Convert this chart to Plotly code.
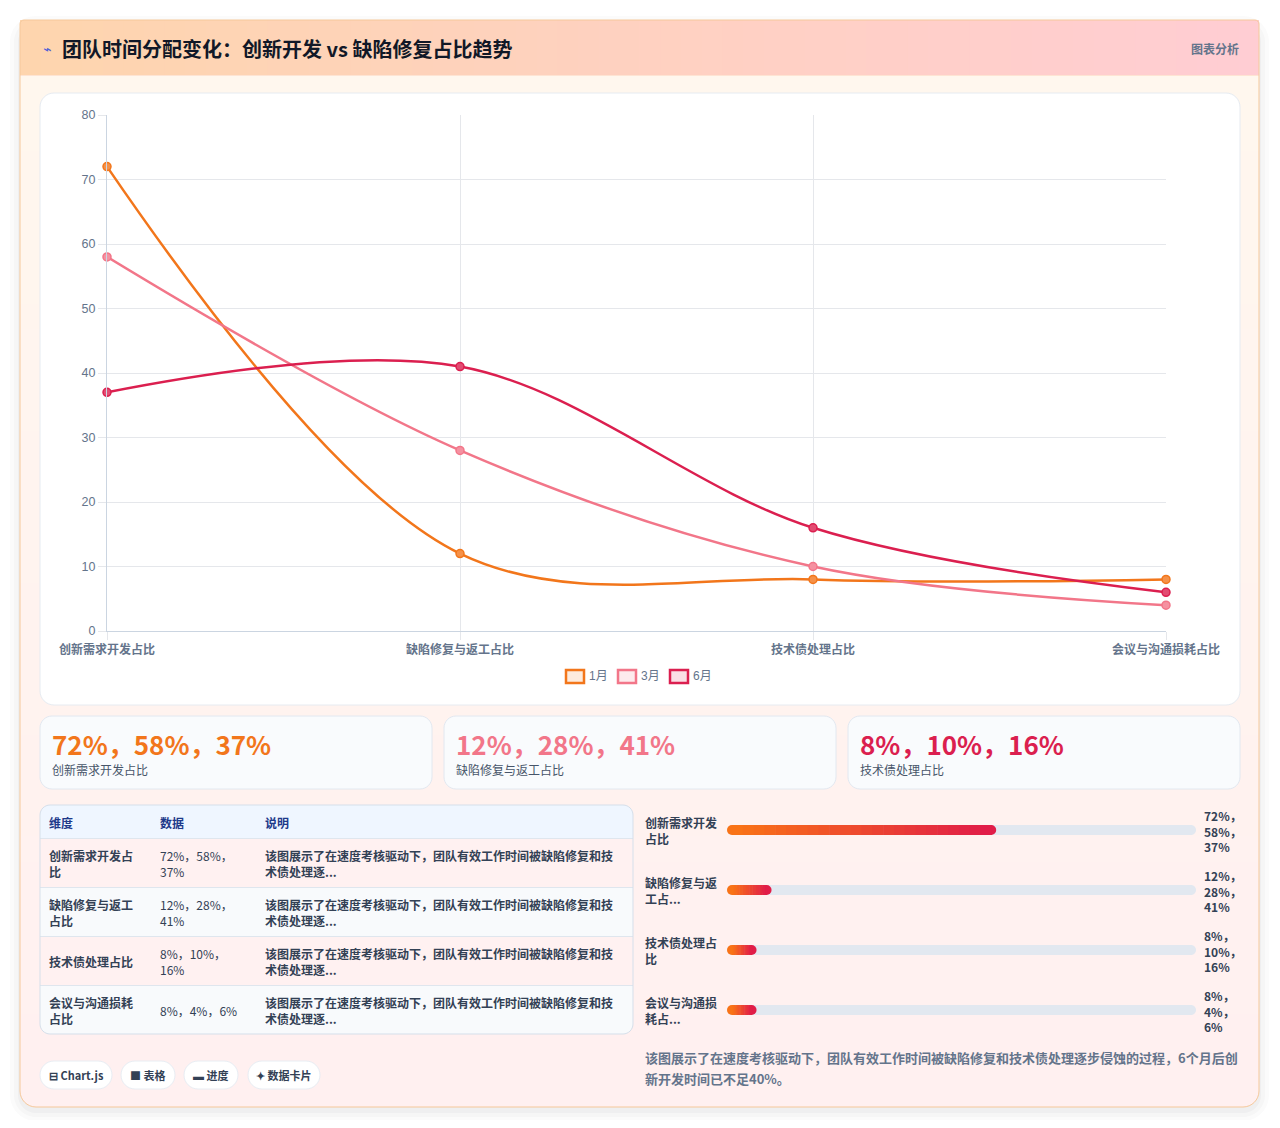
import plotly.graph_objects as go

# page body keeps an 8px margin, so the figure covers the page from (8, 8)
OFF = 8
W, H = 1280 - OFF, 1128 - 2 * OFF

# ---- data ----
title = '团队时间分配变化：创新开发 vs 缺陷修复占比趋势'
months = ['1月', '3月', '6月']
dims = ['创新需求开发占比', '缺陷修复与返工占比', '技术债处理占比', '会议与沟通损耗占比']
jan = [72, 12, 8, 8]
mar = [58, 28, 10, 4]
jun = [37, 41, 16, 6]
progress_pct = [57.4, 9.5, 6.3, 6.3]   # fill length of the progress bars
summary = '该图展示了在速度考核驱动下，团队有效工作时间被缺陷修复和技术债处理逐步侵蚀的过程，6个月后创新开发时间已不足40%。'
chips = ['⊟ Chart.js', '■ 表格', '▬ 进度', '✦ 数据卡片']

series = [jan, mar, jun]
colors = ['#f2761b', '#f27689', '#db1f4f']

FONT = 'Noto Sans CJK SC, Noto Sans, sans-serif'
TICKFONT = 'Liberation Sans, Noto Sans CJK SC, sans-serif'
PAD = 3  # inner padding plotly puts around annotation text


def X(x):
    return (x - OFF) / W


def Y(y):
    return 1 - (y - OFF) / H


def rr(x0, y0, x1, y1, tl, tr=None, br=None, bl=None):
    """rounded rect path in paper coords (input in page pixels)"""
    if tr is None:
        tr = br = bl = tl
    k = 0.4477
    p = [f"M{X(x0 + tl)},{Y(y0)}", f"L{X(x1 - tr)},{Y(y0)}"]
    if tr:
        p.append(f"C{X(x1 - tr * k)},{Y(y0)} {X(x1)},{Y(y0 + tr * k)} {X(x1)},{Y(y0 + tr)}")
    p.append(f"L{X(x1)},{Y(y1 - br)}")
    if br:
        p.append(f"C{X(x1)},{Y(y1 - br * k)} {X(x1 - br * k)},{Y(y1)} {X(x1 - br)},{Y(y1)}")
    p.append(f"L{X(x0 + bl)},{Y(y1)}")
    if bl:
        p.append(f"C{X(x0 + bl * k)},{Y(y1)} {X(x0)},{Y(y1 - bl * k)} {X(x0)},{Y(y1 - bl)}")
    p.append(f"L{X(x0)},{Y(y0 + tl)}")
    if tl:
        p.append(f"C{X(x0)},{Y(y0 + tl * k)} {X(x0 + tl * k)},{Y(y0)} {X(x0 + tl)},{Y(y0)}")
    p.append("Z")
    return " ".join(p)


def mix(c1, c2, t):
    a = [int(c1[i:i + 2], 16) for i in (1, 3, 5)]
    b = [int(c2[i:i + 2], 16) for i in (1, 3, 5)]
    return '#' + ''.join(f"{round(a[j] + (b[j] - a[j]) * t):02x}" for j in range(3))


def rgba(c, a):
    return f"rgba({int(c[1:3], 16)},{int(c[3:5], 16)},{int(c[5:7], 16)},{a})"


shapes = []
annotations = []


def path(p, fill, line=None, lw=1):
    shapes.append(dict(type='path', path=p, xref='paper', yref='paper', layer='below',
                       fillcolor=fill, line=dict(color=line or 'rgba(0,0,0,0)', width=lw if line else 0)))


def rect(x0, y0, x1, y1, fill):
    shapes.append(dict(type='rect', xref='paper', yref='paper', layer='below',
                       x0=X(x0), x1=X(x1), y0=Y(y1), y1=Y(y0),
                       fillcolor=fill, line=dict(width=0)))


def text(x, y, s, size=12, color='#334155', anchor='left', bold=False, family=FONT):
    if anchor == 'left':
        x -= PAD
    elif anchor == 'right':
        x += PAD
    annotations.append(dict(x=X(x), y=Y(y), xref='paper', yref='paper', showarrow=False,
                            text=f"<b>{s}</b>" if bold else s, xanchor=anchor, yanchor='middle',
                            align=anchor, font=dict(family=family, size=size, color=color)))


# ---- outer card: shadow, header gradient, body gradient ----
for i, a in enumerate([0.018, 0.022, 0.03]):
    d = 10 - i * 4
    path(rr(20 - d, 20 - d + 6, 1259 + d, 1107 + d + 4, 16 + d), rgba('#1e293b', a))

path(rr(20, 20, 1259, 1107, 4, 4, 16, 16), '#fff0f0')
n = 40
for i in range(n):
    y0 = 75 + (1090 - 75) * i / n
    y1 = 75 + (1090 - 75) * (i + 1) / n + 1
    rect(20, y0, 1259, y1, mix('#fff7ee', '#fff0f0', i / (n - 1)))
path(rr(20, 1085, 1259, 1107, 0, 0, 16, 16), '#fff0f0')
n = 60
for i in range(n):
    x0 = 20 + (1259 - 20) * i / n
    x1 = 20 + (1259 - 20) * (i + 1) / n + 1
    rect(x0, 20, min(x1, 1259), 75, mix('#fed5ae', '#ffcdd3', i / (n - 1)))
rect(20, 75, 1259, 76, 'rgba(251,191,160,0.35)')
path(rr(20, 20, 1259, 1107, 4, 4, 16, 16), 'rgba(0,0,0,0)', '#f5c89a', 1)

text(44, 49, '⌁', size=14, color='#4f5fd6', family='DejaVu Sans', bold=True)
text(63, 48, title, size=20, color='#111827', bold=True)
text(1238, 48, '图表分析', size=12, color='#64748b', anchor='right', bold=True)

# ---- chart card ----
path(rr(40, 93, 1240, 705, 14), '#ffffff', '#e6ebf1', 1)

fig = go.Figure()
for m, vals, c in zip(months, series, colors):
    fig.add_trace(go.Scatter(
        x=dims, y=vals, name=m, mode='lines+markers', cliponaxis=False, showlegend=False,
        line=dict(color=c, width=2.5, shape='spline', smoothing=1),
        marker=dict(size=8, color=mix(c, '#ffffff', 0.2), line=dict(color=c, width=1.5)),
        hoverinfo='x+y+name'))

# legend drawn by hand (Chart.js style boxes)
lx = 566
for m, c in zip(months, colors):
    shapes.append(dict(type='rect', xref='paper', yref='paper', layer='above',
                       x0=X(lx), x1=X(lx + 18), y0=Y(683), y1=Y(670),
                       fillcolor=rgba(c, 0.15), line=dict(color=c, width=2.5)))
    text(lx + 24, 676, m, size=12, color='#64748b', family=TICKFONT)
    lx += 52

# ---- stat cards ----
for i in range(3):
    x0 = 40 + i * 404
    path(rr(x0, 716, x0 + 392, 789, 12), '#f9fbfd', '#e2e8f0', 1)
    vals = '，'.join(f"{s[i]}%" for s in series)
    text(x0 + 13, 743, vals, size=26, color=colors[i], bold=True)
    text(x0 + 13, 769, dims[i], size=12, color='#475569')

# ---- table ----
tx0, tx1 = 40, 633
path(rr(tx0, 805, tx1, 838, 10, 10, 0, 0), '#eff6ff')
row_fill = ['#fff1f1', '#f8fafc']
for r in range(4):
    y0 = 838 + r * 49
    if r == 3:
        path(rr(tx0, y0, tx1, y0 + 49, 0, 0, 10, 10), row_fill[r % 2])
    else:
        rect(tx0, y0, tx1, y0 + 49, row_fill[r % 2])
    rect(tx0, y0, tx1, y0 + 1, '#dfe6ee')
path(rr(tx0, 805, tx1, 1034, 10), 'rgba(0,0,0,0)', '#d5dfea', 1)

for label, xx in zip(['维度', '数据', '说明'], [50, 161, 266]):
    text(xx, 822, label, size=12, color='#1e3a8a', bold=True)


def wrap(s, n):
    return '<br>'.join(s[i:i + n] for i in range(0, len(s), n))


short_desc = summary[:34] + '...'
for r, d in enumerate(dims):
    cy = 838 + r * 49 + 25
    text(50, cy, wrap(d, 7), size=12, color='#334155', bold=True)
    parts = [f"{s[r]}%" for s in series]
    v = '，'.join(parts)
    if len(v) > 9:
        v = '，'.join(parts[:2]) + '，<br>' + parts[2]
    text(161, cy, v, size=12, color='#334155')
    text(266, cy, wrap(short_desc, 29), size=12, color='#334155', bold=True)

# ---- progress bars ----
for r, d in enumerate(dims):
    cy = 830 + r * 60
    lab = d if len(d) <= 8 else d[:8] + '...'
    text(646, cy, wrap(lab, 6), size=12, color='#334155', bold=True)
    bx0, bx1 = 727, 1196
    path(rr(bx0, cy - 5, bx1, cy + 5, 5), '#e2e8f0')
    fx1 = bx0 + (bx1 - bx0) * progress_pct[r] / 100
    nseg = 24
    shapes.append(dict(type='circle', xref='paper', yref='paper', layer='below',
                       x0=X(bx0), x1=X(bx0 + 10), y0=Y(cy + 5), y1=Y(cy - 5),
                       fillcolor='#f97316', line=dict(width=0)))
    shapes.append(dict(type='circle', xref='paper', yref='paper', layer='below',
                       x0=X(fx1 - 10), x1=X(fx1), y0=Y(cy + 5), y1=Y(cy - 5),
                       fillcolor='#e11d48', line=dict(width=0)))
    sx0, sx1 = bx0 + 5, fx1 - 5
    for k in range(nseg):
        a = sx0 + (sx1 - sx0) * k / nseg
        b = sx0 + (sx1 - sx0) * (k + 1) / nseg + 0.6
        rect(a, cy - 5, min(b, sx1 + 0.5), cy + 5, mix('#f97316', '#e11d48', k / (nseg - 1)))
    text(1205, cy + 1, '，<br>'.join(f"{s[r]}%" for s in series), size=12, color='#334155', bold=True)

# ---- summary + chips ----
text(646, 1057, summary[:46], size=13, color='#64748b', bold=True)
text(646, 1078, summary[46:], size=13, color='#64748b', bold=True)

chip_x = [(40, 112), (121, 175), (184, 238), (248, 320)]
for (a, b), c in zip(chip_x, chips):
    path(rr(a, 1061, b, 1089, 14), '#ffffff', '#e8edf3', 1)
    text((a + b) / 2, 1075, c, size=11, color='#334155', anchor='center', bold=True)

fig.update_layout(
    width=W, height=H, autosize=False,
    margin=dict(l=0, r=0, t=0, b=0, pad=0, autoexpand=False),
    paper_bgcolor='#ffffff', plot_bgcolor='rgba(0,0,0,0)',
    shapes=shapes, annotations=annotations,
    font=dict(family=FONT),
    xaxis=dict(domain=[X(107), X(1166)], type='category', range=[0, 3], automargin=False,
               showgrid=True, gridcolor='#e5e7eb', gridwidth=1,
               ticks='outside', ticklen=8, tickcolor='#e5e7eb',
               showline=True, linecolor='#cbd5e1', zeroline=False, fixedrange=True,
               tickfont=dict(family=FONT, size=12, color='#64748b', weight=600)),
    yaxis=dict(domain=[Y(631), Y(115)], range=[0, 80], dtick=10, automargin=False,
               showgrid=True, gridcolor='#e5e7eb', gridwidth=1,
               ticks='outside', ticklen=8, tickcolor='#e5e7eb',
               showline=True, linecolor='#cbd5e1', zeroline=False, fixedrange=True,
               tickfont=dict(family=TICKFONT, size=12.5, color='#64748b')),
    hovermode='closest',
)

fig.write_html("out.html")
